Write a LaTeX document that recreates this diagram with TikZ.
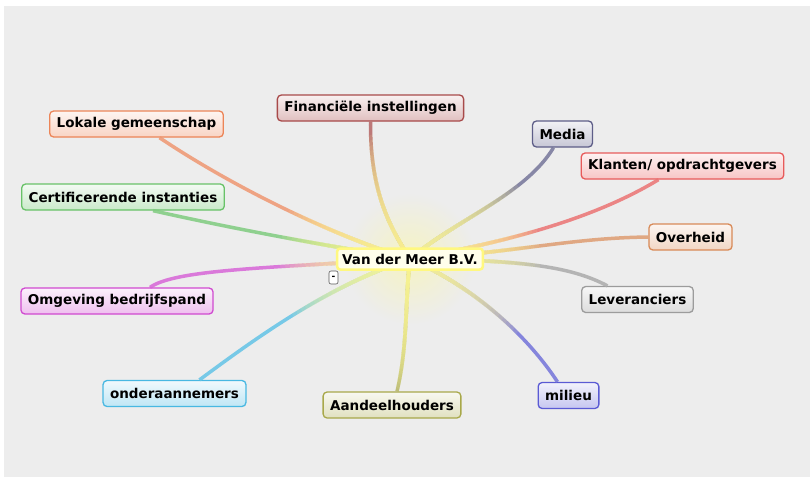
\documentclass[tikz,border=0pt]{standalone}
\usepackage{fontspec}
\setmainfont{DejaVu Sans}
\usetikzlibrary{fadings}

\definecolor{bggray}{HTML}{EDEDED}
\definecolor{lokcol}{HTML}{EC8558}
\definecolor{fincol}{HTML}{A84A4A}
\definecolor{medcol}{HTML}{5E5E88}
\definecolor{klacol}{HTML}{E85A5A}
\definecolor{ovecol}{HTML}{D88A58}
\definecolor{levcol}{HTML}{9C9C9C}
\definecolor{milcol}{HTML}{5A5AD4}
\definecolor{aancol}{HTML}{A8A84A}
\definecolor{ondcol}{HTML}{48B8E2}
\definecolor{omgcol}{HTML}{D04AD0}
\definecolor{cercol}{HTML}{68C268}

\tikzfading[name = glowfade, inner color = transparent!0, outer color = transparent!100]

\tikzset{
  topic/.style = {draw = #1, line width = 1.3pt, rounded corners = 4pt,
    top color = #1!8!white, bottom color = #1!35!white, text = black,
    minimum height = 26pt, inner xsep = 7pt, inner ysep = 0pt,
    font = \bfseries\fontsize{13.5}{16}\selectfont},
  branch/.style = {draw = #1!85!white, line width = 3.5pt, opacity = 0.85},
  glint/.style = {draw = yellow!40!white, line width = 3.8pt, opacity = 0.1}
}

\begin{document}
\begin{tikzpicture}[x = 1pt, y = -1pt]
  \useasboundingbox (0, 0) rectangle (810, 477);
  \fill[color = bggray] (4, 6) rectangle (810, 477);

  \coordinate (hub) at (410, 259);

  \node[topic = lokcol] (lokale) at (136.5, 124) {Lokale gemeenschap};
  \node[topic = fincol] (financ) at (370.5, 108) {Financiële instellingen};
  \node[topic = medcol] (media) at (562.5, 134) {Media};
  \node[topic = klacol] (klanten) at (682.5, 166) {Klanten/ opdrachtgevers};
  \node[topic = ovecol] (overheid) at (690.5, 237) {Overheid};
  \node[topic = levcol] (lever) at (637.5, 299.5) {Leveranciers};
  \node[topic = milcol] (milieu) at (568.5, 395.5) {milieu};
  \node[topic = aancol] (aandeel) at (392, 405) {Aandeelhouders};
  \node[topic = ondcol] (onder) at (174.5, 393.5) {onderaannemers};
  \node[topic = omgcol] (omgeving) at (117, 301) {Omgeving bedrijfspand};
  \node[topic = cercol] (cert) at (123, 197) {Certificerende instanties};

  \fill[color = yellow!40!white, opacity = 0.5, path fading = glowfade] (hub) circle (65pt);

  \draw[branch = lokcol, save path = \plok] ([xshift = 23pt]lokale.south) .. controls (230, 185) and (330, 235) .. (hub);
  \draw[branch = fincol, save path = \pfin] (financ.south) .. controls (370, 195) and (392, 230) .. (hub);
  \draw[branch = medcol, save path = \pmed] ([xshift = -9pt]media.south) .. controls (525, 195) and (455, 220) .. (hub);
  \draw[branch = klacol, save path = \pkla] ([xshift = -24pt]klanten.south) .. controls (600, 215) and (520, 240) .. (hub);
  \draw[branch = ovecol, save path = \pove] (overheid.west) .. controls (570, 238) and (520, 252) .. (hub);
  \draw[branch = levcol, save path = \plev] ([xshift = -30pt]lever.north) .. controls (570, 266) and (520, 260) .. (hub);
  \draw[branch = milcol, save path = \pmil] ([xshift = -11pt]milieu.north) .. controls (530, 340) and (480, 290) .. (hub);
  \draw[branch = aancol, save path = \paan] ([xshift = 5pt]aandeel.north) .. controls (408, 345) and (405, 300) .. (hub);
  \draw[branch = ondcol, save path = \pond] ([xshift = 25pt]onder.north) .. controls (260, 335) and (330, 285) .. (hub);
  \draw[branch = omgcol, save path = \pomg] ([xshift = 33pt]omgeving.north) .. controls (175, 270) and (260, 268) .. (hub);
  \draw[branch = cercol, save path = \pcer] ([xshift = 30pt]cert.south) .. controls (230, 228) and (320, 245) .. (hub);

  \foreach \r in {130, 125, ..., 20} {
    \begin{scope}
      \clip (hub) circle (\r pt);
      \path[glint, use path = \plok];
      \path[glint, use path = \pfin];
      \path[glint, use path = \pmed];
      \path[glint, use path = \pkla];
      \path[glint, use path = \pove];
      \path[glint, use path = \plev];
      \path[glint, use path = \pmil];
      \path[glint, use path = \paan];
      \path[glint, use path = \pond];
      \path[glint, use path = \pomg];
      \path[glint, use path = \pcer];
    \end{scope}
  }

  \node[draw = yellow!50!white, line width = 2.5pt, rounded corners = 3pt, fill = yellow!8!white,
    minimum height = 21pt, inner xsep = 5pt, inner ysep = 0pt,
    font = \bfseries\fontsize{13.5}{16}\selectfont] (vdm) at (hub) {Van der Meer B.V.};
  \node[draw = gray!70!black, fill = white, rounded corners = 2pt, line width = 0.6pt,
    minimum width = 9pt, minimum height = 13pt, inner sep = 0pt,
    font = \bfseries\fontsize{9}{9}\selectfont] (collapse) at (333.5, 277.5) {-};
\end{tikzpicture}
\end{document}
